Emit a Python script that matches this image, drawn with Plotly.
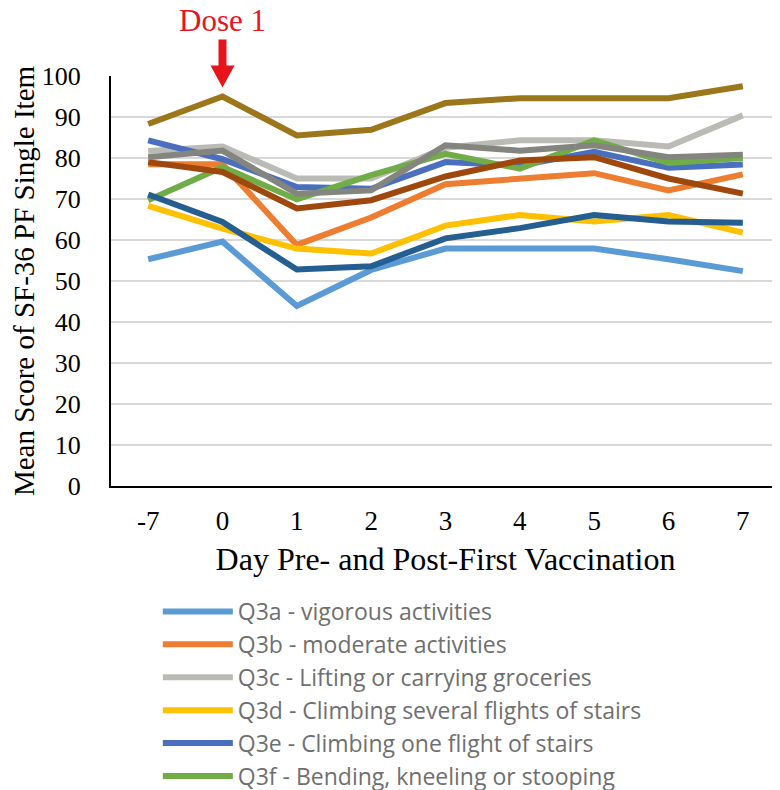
import plotly.graph_objects as go

days = ["-7", "0", "1", "2", "3", "4", "5", "6", "7"]

series_names = [
    "Q3a - vigorous activities",
    "Q3b - moderate activities",
    "Q3c - Lifting or carrying groceries",
    "Q3d - Climbing several flights of stairs",
    "Q3e - Climbing one flight of stairs",
    "Q3f - Bending, kneeling or stooping",
    "Q3g - Walking more than a mile",
    "Q3h - Walking several hundred yards",
    "Q3i - Walking one hundred yards",
    "Q3j - Bathing or dressing yourself",
]

q3a = [55.3, 59.6, 43.9, 52.7, 57.9, 57.9, 57.9, 55.3, 52.4]
q3b = [78.5, 78.5, 58.8, 65.5, 73.6, 75.0, 76.3, 72.1, 76.0]
q3c = [81.7, 82.8, 75.0, 75.0, 82.5, 84.3, 84.3, 82.8, 90.4]
q3d = [68.3, 62.8, 57.9, 56.7, 63.5, 66.1, 64.5, 66.1, 61.8]
q3e = [84.3, 79.7, 72.9, 72.5, 79.0, 78.2, 81.5, 77.6, 78.4]
q3f = [69.7, 77.8, 69.9, 75.8, 81.0, 77.4, 84.3, 78.8, 80.0]
q3g = [71.1, 64.4, 52.8, 53.6, 60.4, 62.9, 66.1, 64.5, 64.2]
q3h = [79.0, 76.6, 67.7, 69.7, 75.5, 79.4, 80.2, 75.0, 71.3]
q3i = [80.2, 81.8, 71.3, 72.1, 83.1, 81.8, 83.1, 80.2, 80.8]
q3j = [88.3, 95.0, 85.5, 86.9, 93.4, 94.6, 94.6, 94.6, 97.5]

series_values = [q3a, q3b, q3c, q3d, q3e, q3f, q3g, q3h, q3i, q3j]

colors = ["#5B9BD5", "#ED7D31", "#BBBBB6", "#FFC000", "#4A6FBE",
          "#70AD47", "#255E91", "#9E480E", "#85857F", "#9C761A"]
shown_in_legend = [True, True, True, True, True, True, False, False, False, False]

y_ticks = [0, 10, 20, 30, 40, 50, 60, 70, 80, 90, 100]

fig = go.Figure()
for name, vals, col, show in zip(series_names, series_values, colors, shown_in_legend):
    fig.add_trace(go.Scatter(
        x=days, y=vals, mode="lines", name=name,
        line=dict(color=col, width=6),
        showlegend=show,
    ))

serif = "Liberation Serif"

fig.update_layout(
    width=780, height=790,
    margin=dict(l=103, r=8, t=68, b=312, autoexpand=False),
    plot_bgcolor="white", paper_bgcolor="white",
    font=dict(family=serif, color="black"),
    xaxis=dict(
        type="category", categoryorder="array", categoryarray=days,
        range=[-0.5, 8.5], automargin=False,
        showline=True, linecolor="black", linewidth=2,
        showgrid=False, zeroline=False, ticks="",
        tickfont=dict(family=serif, size=27, color="black"),
        ticklabelstandoff=10,
        title=dict(text="Day Pre- and Post-First Vaccination",
                   font=dict(family=serif, size=32, color="black"),
                   standoff=12),
    ),
    yaxis=dict(
        range=[0, 100], tickvals=y_ticks, automargin=False,
        showline=True, linecolor="black", linewidth=2,
        showgrid=True, gridcolor="#D9D9D9", gridwidth=1.5,
        zeroline=False, ticks="",
        tickfont=dict(family=serif, size=26, color="black"),
        ticklabelstandoff=23,
        title=dict(text="Mean Score of SF-36 PF Single Item",
                   font=dict(family=serif, size=29, color="black"),
                   standoff=0),
    ),
    legend=dict(
        x=0.070, y=-0.2537, xanchor="left", yanchor="top",
        font=dict(family="Open Sans", size=23, color="#6F6F6F"),
        bgcolor="rgba(0,0,0,0)", itemwidth=70,
    ),
    annotations=[dict(
        text="Dose 1", xref="paper", yref="paper",
        x=1.5 / 9, y=1 + 55 / 410, xanchor="center", yanchor="middle",
        showarrow=False,
        font=dict(family=serif, size=31, color="#E8141C"),
    )],
    shapes=[dict(
        type="path", xref="paper", yref="paper",
        xsizemode="pixel", ysizemode="pixel",
        xanchor=1.5 / 9, yanchor=1.0,
        path="M -4,36.5 L 4,36.5 L 4,10.5 L 12,10.5 L 0,-11.5 L -12,10.5 L -4,10.5 Z",
        fillcolor="#E8141C", line=dict(width=0),
        layer="above",
    )],
)

fig.write_html("out.html")
